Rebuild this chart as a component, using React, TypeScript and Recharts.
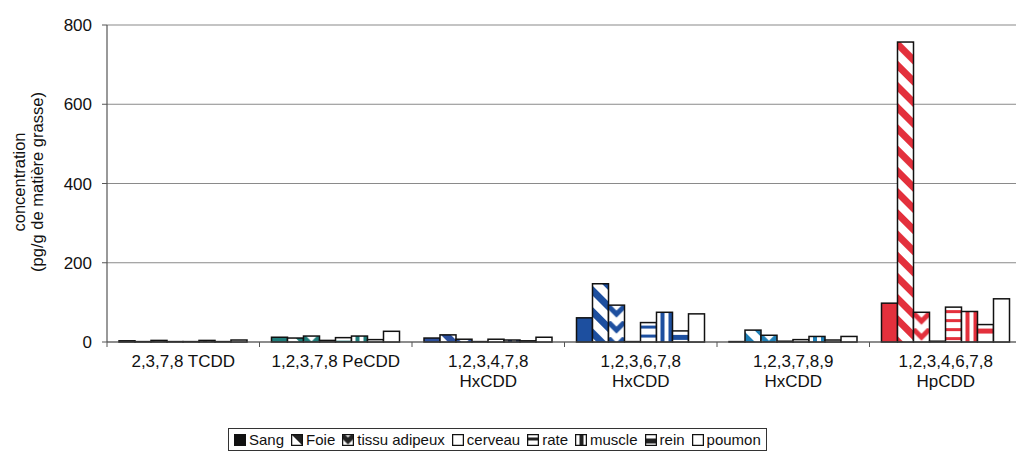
import { BarChart, Bar, XAxis, YAxis, CartesianGrid } from "recharts"

const categories = [
  "2,3,7,8 TCDD",
  "1,2,3,7,8 PeCDD",
  "1,2,3,4,7,8\nHxCDD",
  "1,2,3,6,7,8\nHxCDD",
  "1,2,3,7,8,9\nHxCDD",
  "1,2,3,4,6,7,8\nHpCDD",
]

// each dioxin group was printed in its own colour
const groupColors = ["#2a2a2a", "#1f7d7a", "#2c4f9c", "#1d4f9f", "#1f7fb6", "#e3303c"]

const sang = [3, 12, 10, 61, 1, 98]
const foie = [1, 10, 18, 147, 30, 757]
const tissu = [4, 15, 7, 93, 17, 75]
const cerveau = [1, 4, 1, 1, 2, 2]
const rate = [1, 11, 7, 49, 6, 88]
const muscle = [4, 15, 5, 75, 14, 77]
const rein = [1, 6, 3, 28, 5, 44]
const poumon = [5, 27, 12, 71, 14, 109]

const seriesKeys = ["sang", "foie", "tissu", "cerveau", "rate", "muscle", "rein", "poumon"]
const seriesNames = ["Sang", "Foie", "tissu adipeux", "cerveau", "rate", "muscle", "rein", "poumon"]
const seriesValues = [sang, foie, tissu, cerveau, rate, muscle, rein, poumon]

const yTicks = [0, 200, 400, 600, 800]

const data = categories.map((category, i) => {
  const row: Record<string, string | number> = { category }
  seriesKeys.forEach((key, s) => {
    row[key] = seriesValues[s][i]
  })
  return row
})

function patternFor(kind: string, id: string, color: string, x: number, y: number, w: number) {
  if (kind === "foie") {
    return (
      <pattern id={id} patternUnits="userSpaceOnUse" width={15} height={15} patternTransform="rotate(-45)">
        <rect x={0} y={0} width={7} height={15} fill={color} />
      </pattern>
    )
  }
  if (kind === "tissu") {
    return (
      <pattern id={id} patternUnits="userSpaceOnUse" x={x} y={y} width={w} height={16}>
        <path
          d={`M0,1 L${w / 2},${w / 2 + 1} L${w},1`}
          stroke={color}
          strokeWidth={5}
          fill="none"
        />
      </pattern>
    )
  }
  if (kind === "rate") {
    return (
      <pattern id={id} patternUnits="userSpaceOnUse" x={x} y={y} width={w} height={9}>
        <rect x={0} y={3} width={w} height={3} fill={color} />
      </pattern>
    )
  }
  if (kind === "muscle") {
    return (
      <pattern id={id} patternUnits="userSpaceOnUse" x={x} y={y} width={8} height={10}>
        <rect x={4} y={0} width={4} height={10} fill={color} />
      </pattern>
    )
  }
  if (kind === "rein") {
    return (
      <pattern id={id} patternUnits="userSpaceOnUse" x={x} y={y} width={w} height={14}>
        <rect x={0} y={4} width={w} height={5} fill={color} />
      </pattern>
    )
  }
  return null
}

function makeShape(kind: string) {
  return (props: any) => {
    const { x, y, width, height, payload } = props
    if (!width || !height) return <g />
    const idx = categories.indexOf(payload.category)
    const color = groupColors[idx]
    const id = `pat-${kind}-${idx}`
    let fill = "#fff"
    if (kind === "sang") fill = color
    else if (["foie", "tissu", "rate", "muscle", "rein"].includes(kind)) fill = `url(#${id})`
    return (
      <g>
        <defs>{patternFor(kind, id, color, x, y, width)}</defs>
        <rect x={x} y={y} width={width} height={height} fill="#fff" />
        <rect x={x} y={y} width={width} height={height} fill={fill} stroke="#111" strokeWidth={1.5} />
      </g>
    )
  }
}

function XTick(props: any) {
  const { x, y, payload } = props
  const off = payload.offset || 0
  const lines = String(payload.value).split("\n")
  return (
    <g>
      <line x1={x - off} x2={x - off} y1={y} y2={y + 5} stroke="#555" />
      {lines.map((line, i) => (
        <text key={i} x={x} y={y + 25 + i * 20} textAnchor="middle" fontSize={17} fill="#111">
          {line}
        </text>
      ))}
    </g>
  )
}

function YLabel() {
  return (
    <g>
      <text x={25} y={182} transform="rotate(-90 25 182)" textAnchor="middle" fontSize={16.5} fill="#111">
        concentration
      </text>
      <text x={43} y={182} transform="rotate(-90 43 182)" textAnchor="middle" fontSize={16.5} fill="#111">
        (pg/g de matière grasse)
      </text>
    </g>
  )
}

function Swatch({ kind }: { kind: string }) {
  const id = `legend-${kind}`
  const w = 11
  let fill = "#fff"
  if (kind === "sang") fill = "#111"
  else if (["foie", "tissu", "rate", "muscle", "rein"].includes(kind)) fill = `url(#${id})`
  return (
    <svg width={12} height={12} style={{ marginRight: 3 }}>
      <defs>{patternFor(kind, id, "#222", 0.5, 0.5, w)}</defs>
      <rect x={0.5} y={0.5} width={w} height={w} fill={fill} stroke="#111" strokeWidth={1.5} />
    </svg>
  )
}

export default function App() {
  return (
    <div
      style={{
        position: "absolute",
        left: 0,
        top: 0,
        width: 1016,
        height: 456,
        overflow: "hidden",
        background: "#fff",
        fontFamily: "Arial, 'Liberation Sans', sans-serif",
      }}
    >
      <BarChart
        width={1030}
        height={456}
        data={data}
        margin={{ top: 25, right: 8, left: 47, bottom: 64 }}
        barCategoryGap={12}
        barGap={0}
      >
        <CartesianGrid vertical={false} stroke="#8a8a8a" strokeWidth={1.2} />
        <XAxis
          dataKey="category"
          interval={0}
          tickLine={false}
          tickSize={0}
          tickMargin={0}
          height={50}
          axisLine={{ stroke: "#555", strokeWidth: 1.2 }}
          tick={<XTick />}
        />
        <YAxis
          domain={[0, 800]}
          ticks={yTicks}
          width={60}
          tickSize={5}
          tickMargin={10}
          axisLine={{ stroke: "#555", strokeWidth: 1.2 }}
          tickLine={{ stroke: "#555" }}
          tick={{ fontSize: 17, fill: "#111" }}
          label={<YLabel />}
        />
        {seriesKeys.map((key, s) => (
          <Bar
            key={key}
            dataKey={key}
            name={seriesNames[s]}
            isAnimationActive={false}
            shape={makeShape(key)}
          />
        ))}
      </BarChart>
      <div
        style={{
          position: "absolute",
          left: 228,
          top: 428,
          border: "1px solid #333",
          padding: "2px 5px",
          display: "flex",
          alignItems: "center",
          gap: 7,
          fontSize: 15,
          color: "#111",
          whiteSpace: "nowrap",
        }}
      >
        {seriesKeys.map((key, s) => (
          <span key={key} style={{ display: "flex", alignItems: "center" }}>
            <Swatch kind={key} />
            {seriesNames[s]}
          </span>
        ))}
      </div>
    </div>
  )
}
